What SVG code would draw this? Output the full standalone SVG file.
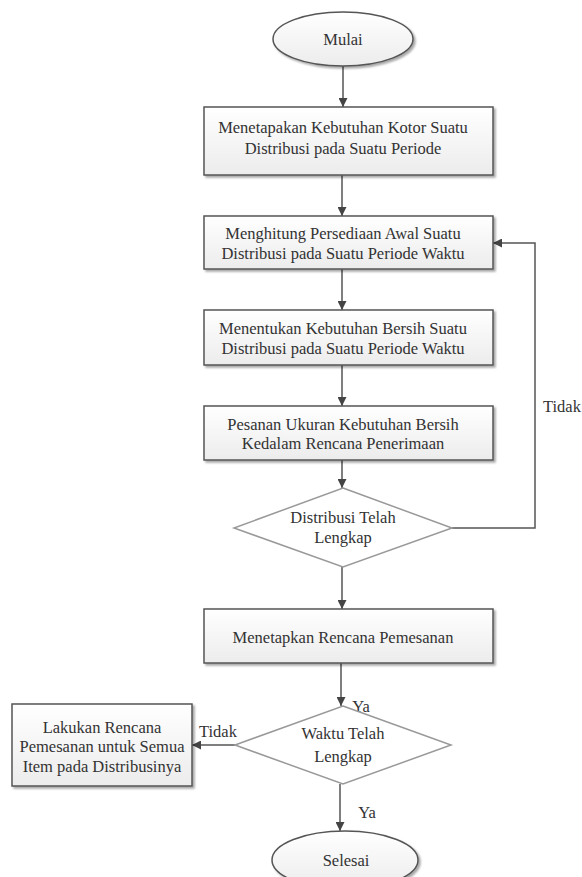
<svg xmlns="http://www.w3.org/2000/svg" width="582" height="877" viewBox="0 0 582 877">
<defs>
<linearGradient id="g" x1="0" y1="0" x2="0" y2="1">
<stop offset="0" stop-color="#ffffff"/>
<stop offset="1" stop-color="#ececec"/>
</linearGradient>
<marker id="arr" viewBox="0 0 10 10" refX="10" refY="5" markerWidth="9" markerHeight="9" markerUnits="userSpaceOnUse" orient="auto">
<path d="M0,0 L10,5 L0,10 z" fill="#444"/>
</marker>
<filter id="sh" x="-5%" y="-5%" width="112%" height="115%">
<feGaussianBlur in="SourceAlpha" stdDeviation="1"/>
<feOffset dx="1.5" dy="1.5" result="o"/>
<feComponentTransfer><feFuncA type="linear" slope="0.35"/></feComponentTransfer>
<feMerge><feMergeNode/><feMergeNode in="SourceGraphic"/></feMerge>
</filter>
</defs>
<style>
.box{fill:url(#g);stroke:#555;stroke-width:1.5;filter:url(#sh)}
.dia{fill:#fff;stroke:#999;stroke-width:1.5}
.con{fill:none;stroke:#555;stroke-width:1.5}
</style>
<rect width="582" height="877" fill="#fff"/>
<g id="connectors">
<line class="con" x1="343" y1="66" x2="343" y2="107" marker-end="url(#arr)"/>
<line class="con" x1="342" y1="175" x2="342" y2="216" marker-end="url(#arr)"/>
<line class="con" x1="342" y1="269" x2="342" y2="310" marker-end="url(#arr)"/>
<line class="con" x1="342" y1="365" x2="342" y2="406" marker-end="url(#arr)"/>
<line class="con" x1="342" y1="460" x2="342" y2="488" marker-end="url(#arr)"/>
<line class="con" x1="342" y1="567" x2="342" y2="609" marker-end="url(#arr)"/>
<line class="con" x1="341" y1="663" x2="341" y2="706" marker-end="url(#arr)"/>
<line class="con" x1="340" y1="784" x2="340" y2="831" marker-end="url(#arr)"/>
<line class="con" x1="235" y1="745" x2="192" y2="745" marker-end="url(#arr)"/>
<polyline class="con" points="452,528 535,528 535,243 493,243" marker-end="url(#arr)"/>
</g>
<g font-family="Liberation Serif, Tinos, Noto Serif, DejaVu Serif, Times New Roman, Times, serif" font-size="16.5" fill="#333" text-anchor="middle">
<g id="labels">
<text x="562" y="412">Tidak</text>
<text x="218" y="737">Tidak</text>
<text x="361" y="712">Ya</text>
<text x="367" y="818">Ya</text>
</g>
<g id="mulai">
<ellipse class="box" cx="343" cy="39" rx="70" ry="27"/>
<text x="343" y="45">Mulai</text>
</g>
<g id="box1">
<rect class="box" x="204" y="107" width="289" height="68"/>
<text x="343" y="133">Menetapakan Kebutuhan Kotor Suatu</text>
<text x="343" y="154">Distribusi pada Suatu Periode</text>
</g>
<g id="box2">
<rect class="box" x="204" y="216" width="289" height="53"/>
<text x="343" y="239">Menghitung Persediaan Awal Suatu</text>
<text x="343" y="259">Distribusi pada Suatu Periode Waktu</text>
</g>
<g id="box3">
<rect class="box" x="204" y="310" width="289" height="55"/>
<text x="343" y="334">Menentukan Kebutuhan Bersih Suatu</text>
<text x="343" y="354">Distribusi pada Suatu Periode Waktu</text>
</g>
<g id="box4">
<rect class="box" x="204" y="406" width="289" height="54"/>
<text x="343" y="430">Pesanan Ukuran Kebutuhan Bersih</text>
<text x="343" y="449">Kedalam Rencana Penerimaan</text>
</g>
<g id="decision1">
<polygon class="dia" points="343,488 452,528 343,567 234,528"/>
<text x="343" y="523">Distribusi Telah</text>
<text x="343" y="543">Lengkap</text>
</g>
<g id="box5">
<rect class="box" x="204" y="609" width="289" height="54"/>
<text x="343" y="643">Menetapkan Rencana Pemesanan</text>
</g>
<g id="decision2">
<polygon class="dia" points="343,706 451,745 343,784 235,745"/>
<text x="343" y="739">Waktu Telah</text>
<text x="343" y="762">Lengkap</text>
</g>
<g id="boxLeft">
<rect class="box" x="12" y="704" width="180" height="82"/>
<text x="102" y="733">Lakukan Rencana</text>
<text x="102" y="752">Pemesanan untuk Semua</text>
<text x="102" y="772">Item pada Distribusinya</text>
</g>
<g id="selesai">
<ellipse class="box" cx="345" cy="860" rx="73" ry="29"/>
<text x="346" y="866">Selesai</text>
</g>
</g>
</svg>
